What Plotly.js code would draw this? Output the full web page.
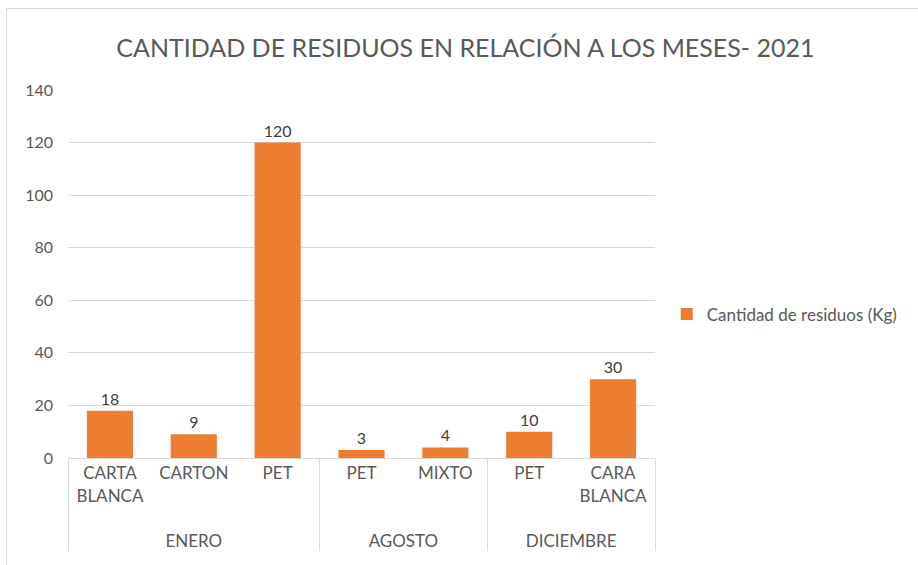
<!DOCTYPE html>
<html>
<head>
<meta charset="utf-8">
<script src="https://cdn.plot.ly/plotly-3.0.1.min.js"></script>
<style>
html,body{margin:0;padding:0;background:#fff;}
#frame{position:absolute;left:6px;top:8px;width:912px;height:557px;border:1px solid #d9d9d9;border-right:none;border-bottom:none;box-sizing:border-box;}
#chart{position:absolute;left:0;top:0;width:918px;height:565px;}
</style>
</head>
<body>
<div id="frame"></div>
<div id="chart"></div>
<script>
const months = ["ENERO","ENERO","ENERO","AGOSTO","AGOSTO","DICIEMBRE","DICIEMBRE"];
const materials = ["CARTA<br>BLANCA<br>&nbsp;","CARTON","PET","PET","MIXTO","PET","CARA<br>BLANCA<br>&nbsp;"];
const values = [18, 9, 120, 3, 4, 10, 30];
const seriesName = "Cantidad de residuos (Kg)";
const yTicks = [0,20,40,60,80,100,120,140];

const FONT = "Lato, 'Open Sans', sans-serif";

const trace = {
  type: "bar",
  x: [months, materials],
  y: values,
  name: seriesName,
  marker: {color: "#ED7D31"},
  text: values.map(String),
  textposition: "outside",
  cliponaxis: false,
  textfont: {family: FONT, size: 16, color: "#404040"},
  hoverinfo: "none"
};

const layout = {
  width: 918, height: 565,
  paper_bgcolor: "rgba(0,0,0,0)",
  plot_bgcolor: "rgba(0,0,0,0)",
  font: {family: FONT, color: "#595959", size: 16},
  margin: {l: 68, r: 263, t: 90, b: 107},
  title: {
    text: "CANTIDAD DE RESIDUOS EN RELACIÓN A LOS MESES- 2021",
    font: {family: FONT, size: 25, color: "#595959"},
    x: 0.507, xanchor: "center", y: 0.915, yanchor: "middle"
  },
  bargap: 0.45,
  showlegend: true,
  legend: {
    x: 1.02, xanchor: "left", y: 0.39, yanchor: "middle",
    font: {family: FONT, size: 17, color: "#595959"},
    bgcolor: "rgba(0,0,0,0)"
  },
  xaxis: {
    type: "multicategory",
    showline: true, linecolor: "#d9d9d9", linewidth: 1,
    showdividers: true, dividercolor: "#d9d9d9", dividerwidth: 1,
    ticks: "", tickfont: {family: FONT, size: 17, color: "#595959"},
    showgrid: false
  },
  yaxis: {
    range: [0, 140],
    tickvals: yTicks,
    ticktext: yTicks.map(String),
    showgrid: true, gridcolor: "#d9d9d9", gridwidth: 1,
    zeroline: false, showline: false,
    tickfont: {family: FONT, size: 16, color: "#595959"},
    ticklabelstandoff: 14
  }
};

Plotly.newPlot("chart", [trace], layout, {displayModeBar: false, staticPlot: true});
</script>
</body>
</html>
